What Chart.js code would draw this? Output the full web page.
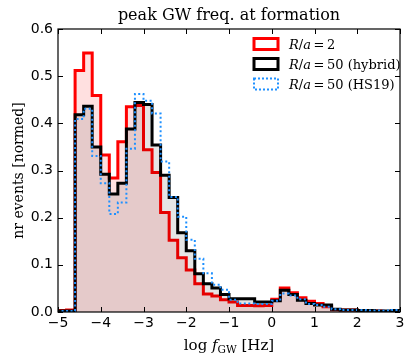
<!DOCTYPE html>
<html>
<head>
<meta charset="utf-8">
<script src="https://cdn.jsdelivr.net/npm/chart.js@4.4.0/dist/chart.umd.min.js"></script>
<style>html,body{margin:0;padding:0;background:#fff}</style>
</head>
<body>
<canvas id="gwChart" width="415" height="362"></canvas>
<script>
// histogram bin edges in log f_GW [Hz]
const binEdges = [-5, -4.8, -4.6, -4.4, -4.2, -4, -3.8, -3.6, -3.4, -3.2, -3, -2.8, -2.6, -2.4, -2.2, -2,
  -1.8, -1.6, -1.4, -1.2, -1, -0.8, -0.6, -0.4, -0.2, 0, 0.2, 0.4, 0.6, 0.8, 1, 1.2, 1.4, 1.6, 1.8, 2,
  2.2, 2.4, 2.6, 2.8, 3];

// R/a = 2
const redVals = [0.003, 0.004, 0.512, 0.549, 0.459, 0.333, 0.284, 0.361, 0.435, 0.438,
  0.344, 0.296, 0.211, 0.152, 0.115, 0.089, 0.060, 0.038, 0.034, 0.026,
  0.021, 0.014, 0.014, 0.013, 0.014, 0.027, 0.051, 0.041, 0.030, 0.023,
  0.018, 0.011, 0.005, 0.004, 0.004, 0.003, 0.002, 0.002, 0.001, 0.001];

// R/a = 50 (hybrid)
const blackVals = [0.002, 0.002, 0.418, 0.436, 0.350, 0.292, 0.250, 0.273, 0.388, 0.444,
  0.440, 0.354, 0.290, 0.243, 0.168, 0.130, 0.081, 0.060, 0.051, 0.037,
  0.028, 0.028, 0.028, 0.021, 0.021, 0.024, 0.046, 0.037, 0.025, 0.018,
  0.015, 0.015, 0.006, 0.004, 0.004, 0.003, 0.003, 0.002, 0.002, 0.003];

// R/a = 50 (HS19)
const blueVals = [0.002, 0.002, 0.409, 0.431, 0.331, 0.273, 0.208, 0.232, 0.346, 0.462,
  0.448, 0.421, 0.319, 0.244, 0.202, 0.153, 0.113, 0.082, 0.058, 0.047,
  0.026, 0.018, 0.018, 0.017, 0.017, 0.024, 0.039, 0.035, 0.027, 0.017,
  0.015, 0.011, 0.006, 0.004, 0.004, 0.004, 0.003, 0.003, 0.003, 0.004];

const xTicks = [-5, -4, -3, -2, -1, 0, 1, 2, 3];
const yTicks = [0, 0.1, 0.2, 0.3, 0.4, 0.5, 0.6];

// step outline points: up from baseline, one point per bin, back down at the end
function stepPoints(vals) {
  const pts = [{ x: binEdges[0], y: 0 }];
  vals.forEach((v, i) => pts.push({ x: binEdges[i], y: v }));
  pts.push({ x: binEdges[vals.length], y: vals[vals.length - 1] });
  pts.push({ x: binEdges[vals.length], y: 0 });
  return pts;
}

const serif = '"DejaVu Serif", serif';

// draw a run of text pieces with different fonts
function richText(ctx, parts, x, y, align) {
  let w = 0;
  parts.forEach(p => { ctx.font = p.f; w += ctx.measureText(p.t).width; });
  let cx = align === 'center' ? x - w / 2 : x;
  parts.forEach(p => {
    ctx.font = p.f;
    ctx.fillText(p.t, cx, y + (p.dy || 0));
    cx += ctx.measureText(p.t).width;
  });
}

function ratioLabel(rest) {
  return [
    { t: 'R', f: 'italic 13px ' + serif },
    { t: '/', f: '13px ' + serif },
    { t: 'a', f: 'italic 13px ' + serif },
    { t: '\u2009=\u2009' + rest, f: '13px ' + serif }
  ];
}

const decorations = {
  id: 'decorations',
  afterDraw(chart) {
    const ctx = chart.ctx;
    const a = chart.chartArea;
    const xs = chart.scales.x, ys = chart.scales.y;
    ctx.save();
    ctx.strokeStyle = '#000';
    ctx.lineWidth = 1;
    // inward ticks on all four sides
    ctx.beginPath();
    xTicks.forEach(v => {
      const px = Math.round(xs.getPixelForValue(v)) + 0.5;
      ctx.moveTo(px, a.bottom); ctx.lineTo(px, a.bottom - 5);
      ctx.moveTo(px, a.top); ctx.lineTo(px, a.top + 5);
    });
    yTicks.forEach(v => {
      const py = Math.round(ys.getPixelForValue(v)) + 0.5;
      ctx.moveTo(a.left, py); ctx.lineTo(a.left + 5, py);
      ctx.moveTo(a.right, py); ctx.lineTo(a.right - 5, py);
    });
    ctx.stroke();
    ctx.lineWidth = 1.2;
    ctx.strokeRect(a.left, a.top, a.right - a.left, a.bottom - a.top);

    ctx.fillStyle = '#000';
    ctx.textBaseline = 'alphabetic';
    ctx.textAlign = 'left';
    // title
    richText(ctx, [{ t: 'peak GW freq. at formation', f: '16px ' + serif }], (a.left + a.right) / 2, 20, 'center');
    // x label
    richText(ctx, [
      { t: 'log ', f: '15px ' + serif },
      { t: 'f', f: 'italic 15px ' + serif },
      { t: 'GW', f: '10.5px ' + serif, dy: 3 },
      { t: ' [Hz]', f: '15px ' + serif }
    ], (a.left + a.right) / 2, 350, 'center');
    // y label
    ctx.save();
    ctx.translate(23, (a.top + a.bottom) / 2);
    ctx.rotate(-Math.PI / 2);
    richText(ctx, [{ t: 'nr events [normed]', f: '14px ' + serif }], 0, 0, 'center');
    ctx.restore();

    // legend
    const rows = [
      { color: '#ff0000', dash: [], parts: ratioLabel('2') },
      { color: '#000000', dash: [], parts: ratioLabel('50 (hybrid)') },
      { color: '#1e90ff', dash: [2, 2], parts: ratioLabel('50 (HS19)') }
    ];
    rows.forEach((r, i) => {
      const cy = 44 + i * 20;
      ctx.strokeStyle = r.color;
      ctx.lineWidth = r.dash.length ? 2 : 3;
      ctx.setLineDash(r.dash);
      ctx.strokeRect(254, cy - 5.5, 24, 11);
      ctx.setLineDash([]);
      ctx.fillStyle = '#000';
      richText(ctx, r.parts, 289, cy + 4.5, 'left');
    });
    ctx.restore();
  }
};

const ctx = document.getElementById('gwChart').getContext('2d');
new Chart(ctx, {
  type: 'line',
  data: {
    datasets: [
      {
        label: 'R/a = 2',
        data: stepPoints(redVals),
        stepped: 'before',
        borderColor: '#ff0000',
        borderWidth: 3,
        backgroundColor: 'rgba(255,0,0,0.12)',
        fill: 'origin',
        pointRadius: 0,
        order: 3
      },
      {
        label: 'R/a = 50 (hybrid)',
        data: stepPoints(blackVals),
        stepped: 'before',
        borderColor: '#000000',
        borderWidth: 3,
        backgroundColor: 'rgba(0,0,0,0.1)',
        fill: 'origin',
        pointRadius: 0,
        order: 2
      },
      {
        label: 'R/a = 50 (HS19)',
        data: stepPoints(blueVals),
        stepped: 'before',
        borderColor: '#1e90ff',
        borderWidth: 2,
        borderDash: [2, 2.5],
        fill: false,
        pointRadius: 0,
        order: 1
      }
    ]
  },
  options: {
    responsive: false,
    animation: false,
    layout: { padding: { left: 0, top: 29, right: 15, bottom: 0 } },
    plugins: { legend: { display: false }, tooltip: { enabled: false } },
    scales: {
      x: {
        type: 'linear',
        min: -5,
        max: 3,
        afterBuildTicks: s => { s.ticks = xTicks.map(v => ({ value: v })); },
        afterFit: s => { s.height = 50; },
        grid: { display: false, drawTicks: false },
        border: { display: false },
        ticks: {
          color: '#000',
          padding: 3,
          maxRotation: 0,
          font: { family: 'DejaVu Sans', size: 14 },
          callback: v => (v < 0 ? '\u2212' + Math.abs(v) : String(v))
        }
      },
      y: {
        min: 0,
        max: 0.6,
        afterBuildTicks: s => { s.ticks = yTicks.map(v => ({ value: v })); },
        afterFit: s => { s.width = 58; },
        grid: { display: false, drawTicks: false },
        border: { display: false },
        ticks: {
          color: '#000',
          padding: 5,
          font: { family: 'DejaVu Sans', size: 14 },
          callback: v => v.toFixed(1)
        }
      }
    }
  },
  plugins: [decorations]
});
</script>
</body>
</html>
